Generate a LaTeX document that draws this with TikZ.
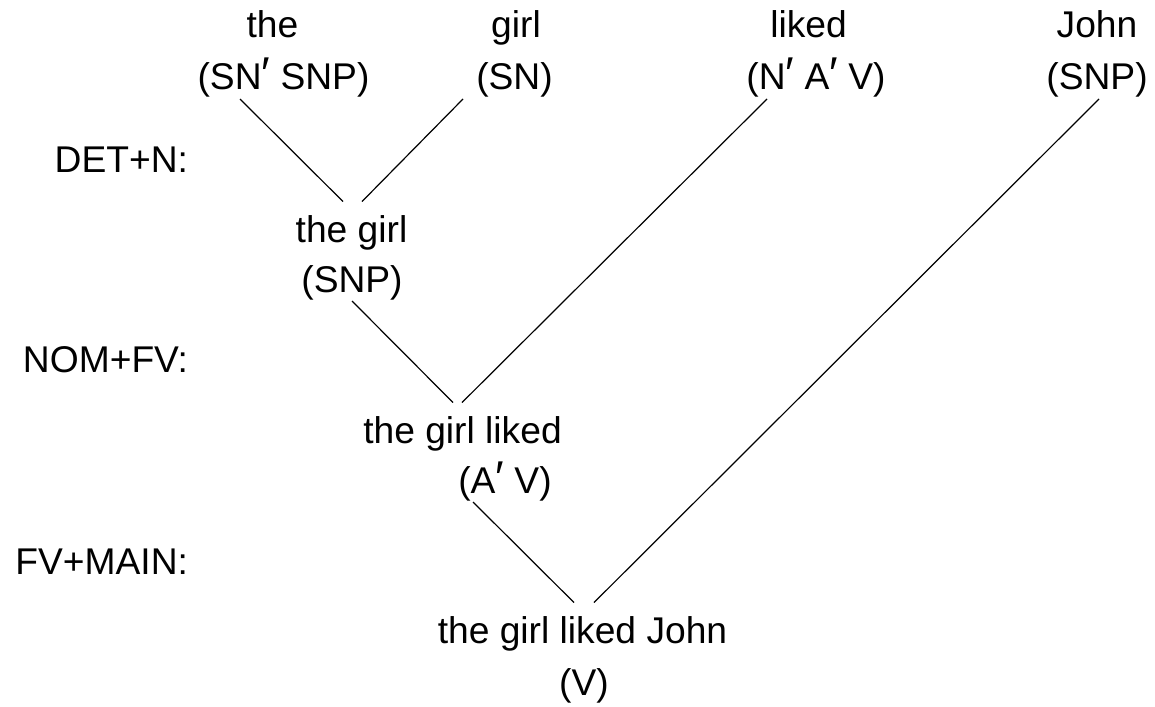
\documentclass[tikz,border=0pt]{standalone}
\usepackage{fontspec}
\setmainfont{Liberation Sans}
\usetikzlibrary{calc}
\newcommand\pr{{\fontsize{23}{23}\selectfont′}}
\begin{document}
\begin{tikzpicture}[x=0.5pt,y=-0.5pt,
  every node/.style={inner sep=0pt,outer sep=0pt,font=\fontsize{18.6}{22}\selectfont},
  word/.style={anchor=base},
  cat/.style={anchor=base,text depth=4.5pt},
  rulelbl/.style={anchor=base east},
  branch/.style={line width=0.6pt,black}]
\useasboundingbox (0,0) rectangle (1155,706);
% leaves
\node[word] (the)  at (272.5,38) {the};
\node[cat]  (theC) at (283.5,90) {(SN\pr\ SNP)};
\node[word] (girl) at (516,38) {girl};
\node[cat]  (girlC) at (514.5,90) {(SN)};
\node[word] (liked) at (808.5,38) {liked};
\node[cat]  (likedC) at (816,90) {(N\pr\ A\pr\ V)};
\node[word] (john) at (1097,38) {John};
\node[cat]  (johnC) at (1097,90) {(SNP)};
% level 1
\node[word] (tg)  at (351.5,242) {the girl};
\node[cat]  (tgC) at (352,292) {(SNP)};
% level 2
\node[word] (tgl)  at (462.5,443) {the girl liked};
\node[cat]  (tglC) at (505,493) {(A\pr\ V)};
% level 3
\node[word] (tglj)  at (582.5,643) {the girl liked John};
\node[cat]  (tgljC) at (584,695) {(V)};
% rule labels
\node[rulelbl] (r1) at (188,172) {DET+N:};
\node[rulelbl] (r2) at (188,372) {NOM+FV:};
\node[rulelbl] (r3) at (188,574) {FV+MAIN:};
% branches
\draw[branch] ($(theC.south)+(-43.5,0)$) -- ($(tg.north)+(-8.5,-13.5)$);
\draw[branch] ($(girlC.south)+(-51.5,0)$) -- ($(tg.north)+(10.5,-13.5)$);
\draw[branch] ($(tgC.south)+(0,0)$) -- ($(tgl.north)+(-9.5,-13.5)$);
\draw[branch] ($(likedC.south)+(-49,0)$) -- ($(tgl.north)+(-0.5,-13.5)$);
\draw[branch] ($(tglC.south)+(-32,0)$) -- ($(tglj.north)+(-8.5,-13.5)$);
\draw[branch] ($(johnC.south)+(2,0)$) -- ($(tglj.north)+(11.5,-13.5)$);
\end{tikzpicture}
\end{document}
